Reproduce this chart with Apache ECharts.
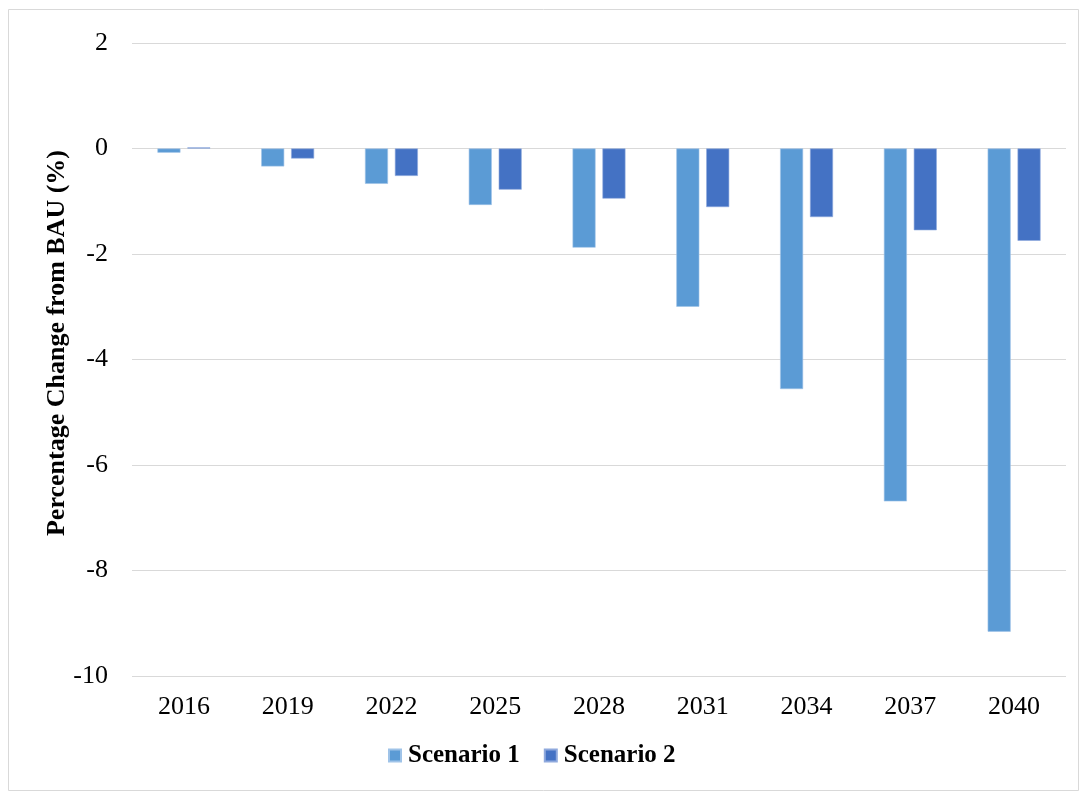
<!DOCTYPE html>
<html>
<head>
<meta charset="utf-8">
<script src="https://cdn.jsdelivr.net/npm/echarts@6/dist/echarts.min.js"></script>
<style>
html,body{margin:0;padding:0;background:#fff;}
#chart{width:1087px;height:799px;}
</style>
</head>
<body>
<div id="chart"></div>
<script>
var categories = ['2016','2019','2022','2025','2028','2031','2034','2037','2040'];
var scenario1 = [-0.08, -0.34, -0.67, -1.07, -1.88, -3.00, -4.56, -6.69, -9.16];
var scenario2 = [0.02, -0.19, -0.52, -0.78, -0.95, -1.11, -1.30, -1.55, -1.75];
var seriesNames = ['Scenario 1', 'Scenario 2'];
var yAxisTitle = 'Percentage Change from BAU (%)';
var yTicks = {min: -10, max: 2, interval: 2};

var font = '"Liberation Serif", "Times New Roman", serif';
var chart = echarts.init(document.getElementById('chart'));
chart.setOption({
  animation: false,
  backgroundColor: '#fff',
  graphic: [{
    type: 'rect',
    shape: {x: 8.5, y: 9.5, width: 1070, height: 781},
    style: {fill: 'none', stroke: '#d9d9d9', lineWidth: 1},
    silent: true
  }, {
    type: 'text',
    x: 57,
    y: 343,
    rotation: Math.PI / 2,
    style: {
      text: yAxisTitle,
      font: 'bold 26px ' + font,
      fill: '#000',
      align: 'center',
      verticalAlign: 'middle'
    },
    silent: true
  }],
  grid: {left: 132, right: 21, top: 43, bottom: 123},
  legend: {
    data: seriesNames,
    left: 383,
    top: 738,
    itemWidth: 12,
    itemHeight: 12,
    itemGap: 24,
    icon: 'rect',
    textStyle: {fontFamily: font, fontSize: 25, fontWeight: 'bold', color: '#000', padding: [0, 0, 0, 2]}
  },
  xAxis: {
    type: 'category',
    data: categories,
    axisLine: {show: false},
    axisTick: {show: false},
    axisLabel: {fontFamily: font, fontSize: 26, color: '#000', margin: 18}
  },
  yAxis: {
    type: 'value',
    min: yTicks.min,
    max: yTicks.max,
    interval: yTicks.interval,
    axisLine: {show: false},
    axisTick: {show: false},
    axisLabel: {fontFamily: font, fontSize: 26, color: '#000', margin: 24},
    splitLine: {lineStyle: {color: '#d9d9d9', width: 1}}
  },
  series: [
    {name: seriesNames[0], type: 'bar', data: scenario1, barWidth: 23, barGap: '30%',
     itemStyle: {color: '#5B9BD5', borderColor: '#9fc3e8', borderWidth: 0.6}},
    {name: seriesNames[1], type: 'bar', data: scenario2, barWidth: 23,
     itemStyle: {color: '#4472C4', borderColor: '#8fa9dd', borderWidth: 0.6}}
  ]
});
</script>
</body>
</html>
